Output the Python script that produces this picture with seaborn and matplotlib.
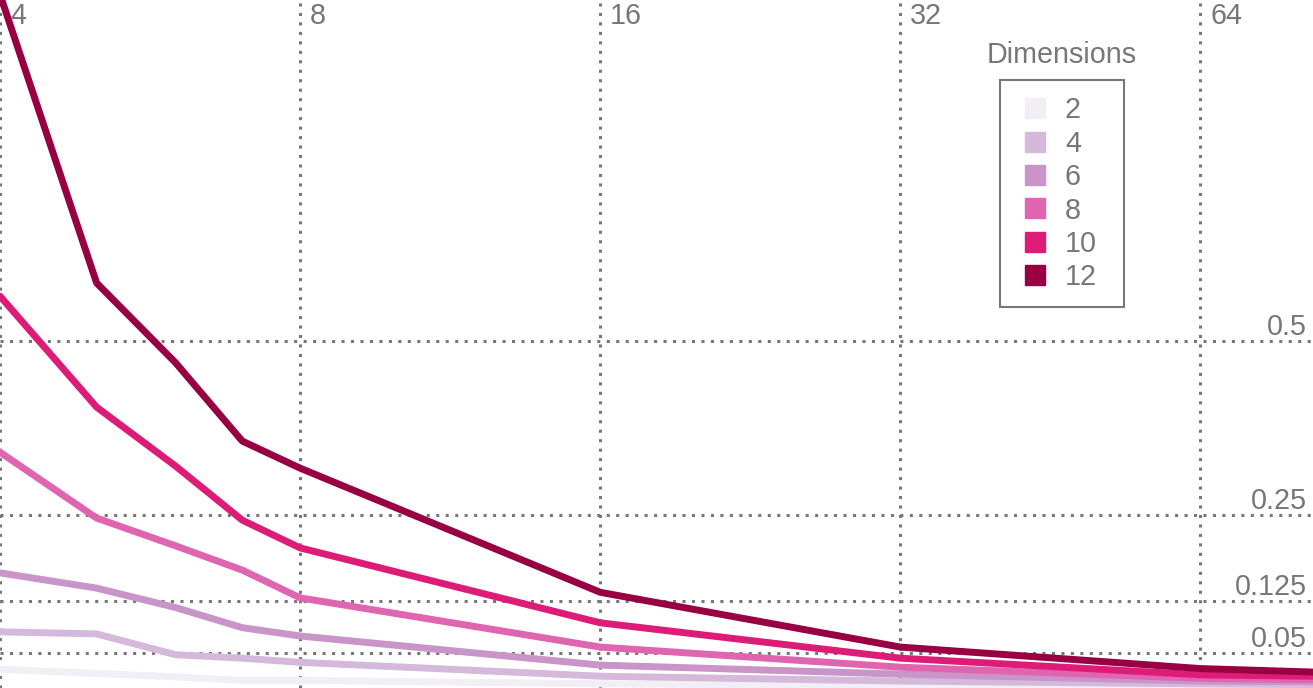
import numpy as np
import pandas as pd
import matplotlib
matplotlib.use("Agg")
import matplotlib.pyplot as plt
from matplotlib.lines import Line2D
import seaborn as sns

# ---- data ----
x_values = [4, 5, 6, 7, 8, 16, 32, 64, 83]
dims = [2, 4, 6, 8, 10, 12]
dim2 = [0.027, 0.021, 0.016, 0.011, 0.011, 0.006, 0.003, 0.002, 0.002]
dim4 = [0.081, 0.078, 0.048, 0.043, 0.037, 0.017, 0.010, 0.006, 0.005]
dim6 = [0.166, 0.144, 0.116, 0.087, 0.075, 0.033, 0.020, 0.010, 0.009]
dim8 = [0.340, 0.245, 0.205, 0.170, 0.130, 0.059, 0.030, 0.014, 0.012]
dim10 = [0.565, 0.405, 0.320, 0.242, 0.202, 0.094, 0.043, 0.019, 0.017]
dim12 = [1.000, 0.584, 0.469, 0.356, 0.317, 0.138, 0.059, 0.028, 0.023]
series = [dim2, dim4, dim6, dim8, dim10, dim12]
colors = ["#f1eef6", "#d4b9da", "#c994c7", "#df65b0", "#dd1c77", "#980043"]
x_ticks = [4, 8, 16, 32, 64]
y_ticks = [0.5, 0.25, 0.125, 0.05]
y_tick_labels = ["0.5", "0.25", "0.125", "0.05"]
legend_title = "Dimensions"

rows = []
for d, vals in zip(dims, series):
    for xv, yv in zip(x_values, vals):
        rows.append({"x": xv, "y": yv, "dim": d})
df = pd.DataFrame(rows)

sns.set_theme(style="white")
plt.rcParams["font.family"] = ["Liberation Sans", "DejaVu Sans"]

fig = plt.figure(figsize=(13.13, 6.88), dpi=100)
ax = fig.add_axes([0, 0, 1, 1])
ax.set_xscale("log", base=2)

grid_color = "#777777"
grid_ls = (0, (1.0, 2.1))
for t in x_ticks:
    ax.axvline(t, color=grid_color, lw=2.2, ls=grid_ls, zorder=0)
for v in y_ticks:
    ax.axhline(v, color=grid_color, lw=2.2, ls=grid_ls, zorder=0)

palette = dict(zip(dims, colors))
sns.lineplot(data=df, x="x", y="y", hue="dim", palette=palette,
             hue_order=dims, linewidth=5, legend=False, ax=ax,
             sort=True, estimator=None)

ax.set_xlim(x_values[0], x_values[-1])
ax.set_ylim(0, 0.992)
for s in ax.spines.values():
    s.set_visible(False)
ax.set_xticks([])
ax.set_yticks([])
ax.set_xlabel("")
ax.set_ylabel("")

text_color = "#777777"
fs = 20.7
for t in x_ticks:
    ax.annotate(str(t), xy=(t, 1), xycoords=("data", "axes fraction"),
                xytext=(7.2, -1.5), textcoords="offset points",
                ha="left", va="top", fontsize=fs, color=text_color)
for v, lab in zip(y_ticks, y_tick_labels):
    ax.annotate(lab, xy=(1, v), xycoords=("axes fraction", "data"),
                xytext=(-4.3, 4.3), textcoords="offset points",
                ha="right", va="baseline", fontsize=fs, color=text_color)

handles = [Line2D([], [], marker="s", linestyle="none", markersize=14.5,
                  markerfacecolor=c, markeredgecolor=c) for c in colors]
W, H = 1313, 688
leg = ax.legend(handles, [str(d) for d in dims], loc="upper left",
                bbox_to_anchor=(1000 / W, 1 - 81 / H, 124 / W, 0.001),
                mode="expand", borderaxespad=0, borderpad=0.55,
                handlelength=1.3, handletextpad=0.41, labelspacing=0.19,
                fontsize=fs, frameon=True, fancybox=False)
for txt in leg.get_texts():
    txt.set_color(text_color)
frame = leg.get_frame()
frame.set_edgecolor("#777777")
frame.set_linewidth(1.5)
frame.set_facecolor("white")
frame.set_alpha(1)

ax.text(1062 / W, 1 - 55 / H, legend_title, transform=ax.transAxes,
        ha="center", va="center", fontsize=fs, color=text_color)

fig.savefig("out.png", dpi=100)
